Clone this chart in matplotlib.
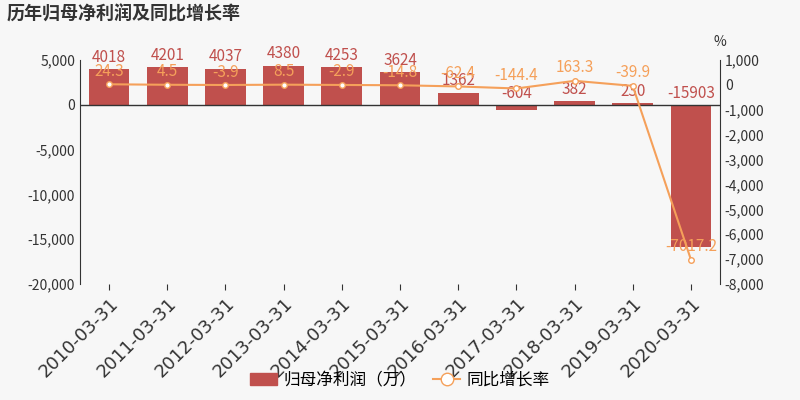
import matplotlib
matplotlib.use("Agg")
import matplotlib.pyplot as plt
from matplotlib.ticker import FuncFormatter

plt.rcParams['font.family'] = ['Noto Sans CJK SC', 'DejaVu Sans']

years = ["2010-03-31","2011-03-31","2012-03-31","2013-03-31","2014-03-31","2015-03-31",
         "2016-03-31","2017-03-31","2018-03-31","2019-03-31","2020-03-31"]
profit = [4018, 4201, 4037, 4380, 4253, 3624, 1362, -604, 382, 230, -15903]
growth = [24.3, 4.5, -3.9, 8.5, -2.9, -14.8, -62.4, -144.4, 163.3, -39.9, -7017.2]
growth_labels = ["24.3","4.5","-3.9","8.5","-2.9","-14.8","-62.4","-144.4","163.3","-39.9","-7017.2"]

bar_c = '#c0504d'
line_c = '#f5a05a'
bg = '#f7f7f7'

fig = plt.figure(figsize=(8, 4), dpi=100, facecolor=bg)
ax = fig.add_axes([0.1, 0.29, 0.8, 0.56], facecolor=bg)
x = list(range(len(years)))
ax.bar(x, profit, width=0.7, color=bar_c, zorder=2)
ax.set_ylim(-20000, 5000)
ax.set_yticks(range(-20000, 5001, 5000))
ax.yaxis.set_major_formatter(FuncFormatter(lambda v, p: f"{int(v):,}"))
ax.set_xlim(-0.5, len(years) - 0.5)
ax.set_xticks(x)
ax.set_xticklabels(years, rotation=45, ha='right', rotation_mode='anchor', fontsize=13,
                   color='#333333', family=['DejaVu Sans'])
ax.tick_params(axis='y', labelsize=10, colors='#333333', length=0)
ax.tick_params(axis='x', length=4, color='#333333')
ax.axhline(0, color='#333333', lw=1, zorder=3)
for s in ['top', 'right', 'bottom']:
    ax.spines[s].set_visible(False)
ax.spines['left'].set_color('#333333')
for xi, v in zip(x, profit):
    ax.text(xi, max(v, 0) + 350, str(v), ha='center', va='bottom', color=bar_c, fontsize=11, zorder=5)

ax2 = ax.twinx()
ax2.set_ylim(-8000, 1000)
ax2.set_yticks(range(-8000, 1001, 1000))
ax2.yaxis.set_major_formatter(FuncFormatter(lambda v, p: f"{int(v):,}"))
ax2.tick_params(axis='y', labelsize=10, colors='#333333', length=0)
for s in ['top', 'left', 'bottom']:
    ax2.spines[s].set_visible(False)
ax2.spines['right'].set_color('#333333')
ax2.plot(x, growth, color=line_c, lw=1.5, marker='o', markersize=4,
         markerfacecolor='white', markeredgecolor=line_c, zorder=4)
for xi, g, lab in zip(x, growth, growth_labels):
    ax2.text(xi, g + 180, lab, ha='center', va='bottom', color=line_c, fontsize=11, zorder=5)
fig.text(0.9, 0.885, '%', fontsize=10, color='#333333', ha='center')

fig.text(0.008, 0.965, '历年归母净利润及同比增长率', fontsize=13, fontweight='bold', color='#333333', va='center')

from matplotlib.patches import Patch
from matplotlib.lines import Line2D
handles = [Patch(color=bar_c, label='归母净利润（万）'),
           Line2D([], [], color=line_c, marker='o', markersize=9, markerfacecolor='white', label='同比增长率')]
fig.legend(handles=handles, loc='lower center', bbox_to_anchor=(0.5, -0.01), ncol=2, frameon=False,
           fontsize=12, handlelength=1.6, columnspacing=1.0, handletextpad=0.4)

fig.savefig('out.png', dpi=100, facecolor=bg)
